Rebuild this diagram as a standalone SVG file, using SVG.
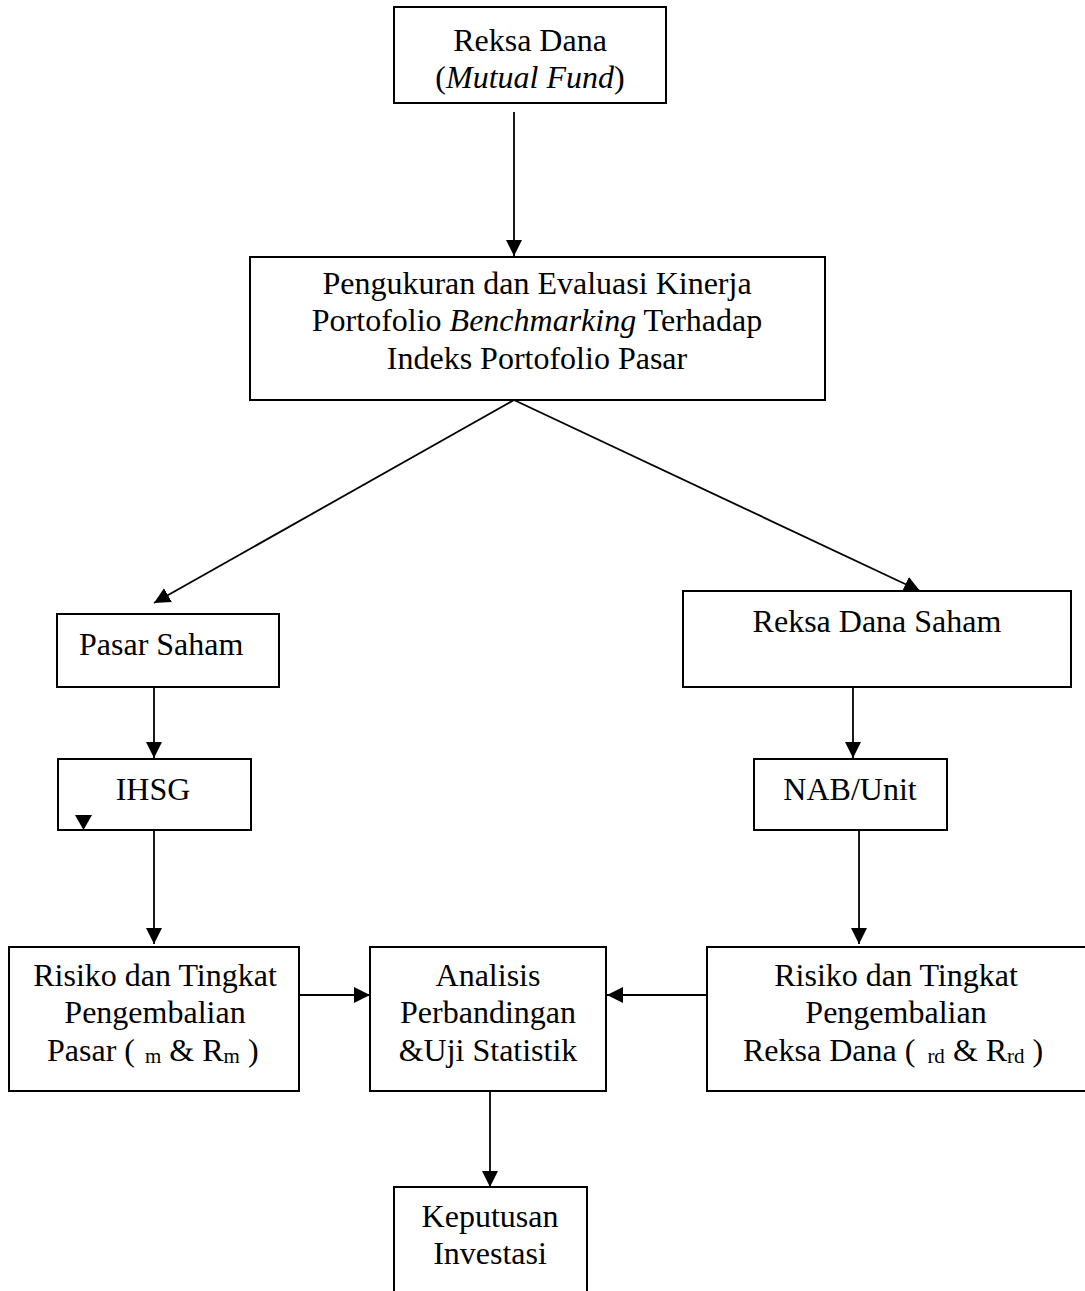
<svg xmlns="http://www.w3.org/2000/svg" width="1085" height="1291" viewBox="0 0 1085 1291">
<style>
.box{fill:#fff;stroke:#000;stroke-width:2}
.t{font-family:"Liberation Serif","Times New Roman",serif;font-size:32px;fill:#000}
.c{text-anchor:middle}
.ln{stroke:#000;stroke-width:1.8;fill:none;marker-end:url(#ah)}
.sub{font-size:21px}
</style>
<defs>
<marker id="ah" markerUnits="userSpaceOnUse" markerWidth="17" markerHeight="16" refX="16" refY="8" orient="auto">
<path d="M0,0 L16,8 L0,16 z" fill="#000"/>
</marker>
</defs>
<rect width="1085" height="1291" fill="#fff"/>
<g id="connectors">
<line class="ln" x1="514" y1="112" x2="514" y2="256"/>
<line class="ln" x1="514" y1="400" x2="154" y2="603"/>
<line class="ln" x1="514" y1="400" x2="920" y2="591"/>
<line class="ln" x1="154" y1="687" x2="154" y2="758"/>
<line class="ln" x1="154" y1="823" x2="154" y2="944"/>
<line class="ln" x1="853" y1="687" x2="853" y2="758"/>
<line class="ln" x1="859" y1="825" x2="859" y2="944"/>
<line class="ln" x1="296" y1="995" x2="370" y2="995"/>
<line class="ln" x1="707" y1="995" x2="607" y2="995"/>
<line class="ln" x1="490" y1="1091" x2="490" y2="1187"/>
</g>
<g id="reksa-dana">
<rect class="box" x="394" y="7" width="272" height="96"/>
<text class="t c" x="530" y="51">Reksa Dana</text>
<text class="t c" x="530" y="88">(<tspan font-style="italic">Mutual Fund</tspan>)</text>
</g>
<g id="pengukuran">
<rect class="box" x="250" y="257" width="575" height="143"/>
<text class="t c" x="537" y="294">Pengukuran dan Evaluasi Kinerja</text>
<text class="t c" x="537" y="331">Portofolio <tspan font-style="italic">Benchmarking</tspan> Terhadap</text>
<text class="t c" x="537" y="369">Indeks Portofolio Pasar</text>
</g>
<g id="pasar-saham">
<rect class="box" x="57" y="614" width="222" height="73"/>
<text class="t" x="79" y="655">Pasar Saham</text>
</g>
<g id="reksa-dana-saham">
<rect class="box" x="683" y="591" width="388" height="96"/>
<text class="t c" x="877" y="632">Reksa Dana Saham</text>
</g>
<g id="ihsg">
<rect class="box" x="58" y="759" width="193" height="71"/>
<text class="t c" x="153" y="800">IHSG</text>
<polygon points="75,815 92,815 83.5,830" fill="#000"/>
</g>
<g id="nab-unit">
<rect class="box" x="754" y="759" width="193" height="71"/>
<text class="t c" x="850" y="800">NAB/Unit</text>
</g>
<g id="risiko-pasar">
<rect class="box" x="9" y="947" width="290" height="144"/>
<text class="t c" x="155" y="986">Risiko dan Tingkat</text>
<text class="t c" x="155" y="1023">Pengembalian</text>
<text class="t" x="47" y="1061">Pasar (<tspan class="sub" dx="10" dy="2">m</tspan><tspan dy="-2"> &amp; R</tspan><tspan class="sub" dy="2">m</tspan><tspan dy="-2"> )</tspan></text>
</g>
<g id="analisis">
<rect class="box" x="370" y="947" width="236" height="144"/>
<text class="t c" x="488" y="986">Analisis</text>
<text class="t c" x="488" y="1023">Perbandingan</text>
<text class="t c" x="488" y="1061">&amp;Uji Statistik</text>
</g>
<g id="risiko-reksa-dana">
<rect class="box" x="707" y="947" width="380" height="144"/>
<text class="t c" x="896" y="986">Risiko dan Tingkat</text>
<text class="t c" x="896" y="1023">Pengembalian</text>
<text class="t" x="743" y="1061">Reksa Dana (<tspan class="sub" dx="12" dy="2">rd</tspan><tspan dy="-2"> &amp; R</tspan><tspan class="sub" dy="2">rd</tspan><tspan dy="-2"> )</tspan></text>
</g>
<g id="keputusan">
<path d="M394,1295 L394,1187 L587,1187 L587,1295" fill="#fff" stroke="#000" stroke-width="2"/>
<text class="t c" x="490" y="1227">Keputusan</text>
<text class="t c" x="490" y="1264">Investasi</text>
</g>
</svg>
